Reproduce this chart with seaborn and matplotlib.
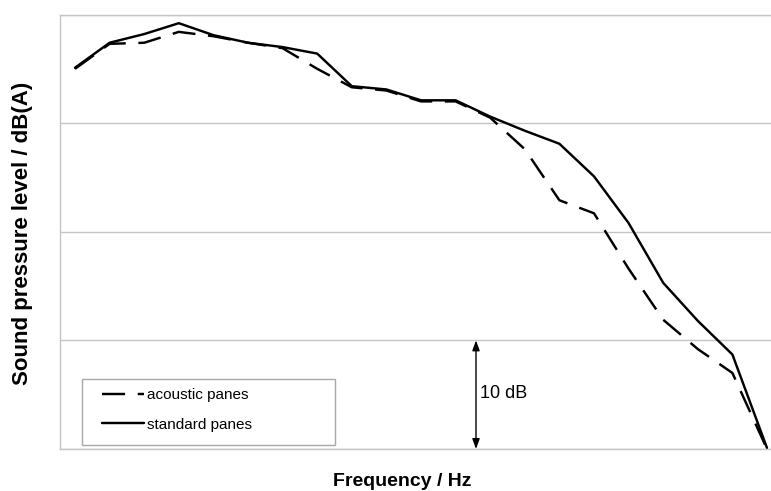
import numpy as np
import pandas as pd
import matplotlib
matplotlib.use("Agg")
import matplotlib.pyplot as plt
import matplotlib.patches as mpatches
import seaborn as sns

# 1/3-octave bands (no tick labels are shown on the chart)
bands = ["100", "125", "160", "200", "250", "315", "400", "500", "630", "800",
         "1000", "1250", "1600", "2000", "2500", "3150", "4000", "5000",
         "6300", "8000", "10000"]
# relative sound pressure level in dB (0 = bottom gridline)
acoustic = [35.0, 37.3, 37.4, 38.4, 38.0, 37.4, 36.9, 35.0, 33.3, 33.0, 32.0,
            32.0, 30.5, 27.6, 22.9, 21.7, 16.6, 11.9, 9.2, 7.0, 0.0]
standard = [35.1, 37.4, 38.2, 39.2, 38.1, 37.4, 37.0, 36.4, 33.4, 33.1, 32.1,
            32.1, 30.6, 29.3, 28.1, 25.1, 20.8, 15.3, 11.8, 8.7, 0.1]
series_names = ["acoustic panes", "standard panes"]
y_grid = [0, 10, 20, 30, 40]

df = pd.DataFrame({
    "band": bands * 2,
    "pos": list(range(len(bands))) * 2,
    "level": acoustic + standard,
    "glazing": [series_names[0]] * len(bands) + [series_names[1]] * len(bands),
})

sns.set_style("white")
plt.rcParams["font.family"] = ["Liberation Sans", "DejaVu Sans"]
plt.rcParams["text.color"] = "black"
plt.rcParams["axes.labelcolor"] = "black"

fig = plt.figure(figsize=(7.71, 4.91), dpi=100)
ax = fig.add_axes([60 / 771, 42 / 491, 711 / 771, 434.5 / 491])

sns.lineplot(data=df, x="pos", y="level", hue="glazing", style="glazing",
             palette={series_names[0]: "black", series_names[1]: "black"},
             dashes={series_names[0]: (9.5, 5.2), series_names[1]: ""},
             linewidth=1.75, sort=False, legend=True, ax=ax)

ax.set_xlim(-0.434, 20.116)
ax.set_ylim(0, 40)
ax.set_xticks([])
ax.set_yticks(y_grid)
ax.set_yticklabels([])
ax.tick_params(left=False, bottom=False)
ax.yaxis.grid(True, color="#c4c4c4", linewidth=1.0)
ax.xaxis.grid(False)
for s in ["left", "bottom", "top"]:
    ax.spines[s].set_color("#c4c4c4")
    ax.spines[s].set_linewidth(1.0)
ax.spines["right"].set_visible(False)

ax.set_xlabel("Frequency / Hz", fontsize=14, fontweight="bold", va="center",
              color="black")
ax.xaxis.set_label_coords((402 - 60) / 711, -(481 - 449) / 434.5)
ax.set_ylabel("Sound pressure level / dB(A)", fontsize=16, fontweight="bold",
              va="center", ha="center", color="black")
ax.yaxis.set_label_coords((23 - 60) / 711, (449 - 233) / 434.5)

# legend (frame drawn separately)
handles, labels = ax.get_legend_handles_labels()
leg = ax.legend(handles, labels, loc="upper left",
                bbox_to_anchor=((101.7 - 60) / 711, (449 - 388) / 434.5),
                frameon=False, fontsize=11, borderpad=0, borderaxespad=0,
                handlelength=2.75, handletextpad=0.2, labelspacing=1.02)
for t in leg.get_texts():
    t.set_color("black")
ax.add_patch(mpatches.Rectangle(((81.7 - 60) / 711, (449 - 445) / 434.5),
                                (335 - 81.7) / 711, (445 - 379) / 434.5,
                                transform=ax.transAxes, fill=False,
                                edgecolor="#a8a8a8", linewidth=1.0,
                                clip_on=False, zorder=5))

# 10 dB scale arrow
ax.annotate("", xy=(11.59, 0), xytext=(11.59, 10),
            arrowprops=dict(arrowstyle="<|-|>,head_length=0.6,head_width=0.22",
                            color="black", lw=1.0, shrinkA=0, shrinkB=0,
                            mutation_scale=10))
ax.text(11.7, 5.1, "10 dB", fontsize=13, ha="left", va="center", color="black")

fig.savefig("out.png", dpi=100)
